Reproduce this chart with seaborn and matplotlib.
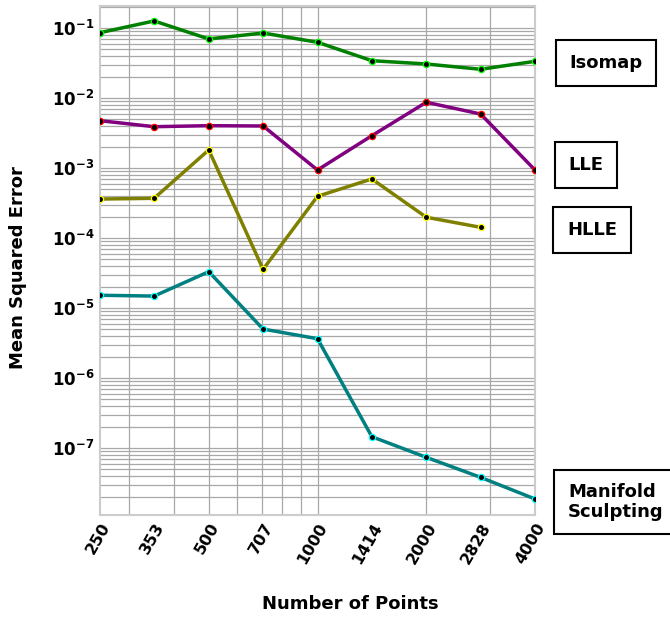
import matplotlib
matplotlib.use("Agg")
import matplotlib.pyplot as plt
import matplotlib.ticker as mticker
import seaborn as sns
import pandas as pd
import numpy as np

# ---- data ----
points = [250, 353, 500, 707, 1000, 1414, 2000, 2828, 4000]
tick_labels = ["250", "353", "500", "707", "1000", "1414", "2000", "2828", "4000"]
isomap = [0.0857, 0.126, 0.0697, 0.0848, 0.0625, 0.0341, 0.0306, 0.0257, 0.0334]
lle = [0.00474, 0.00389, 0.00402, 0.00398, 0.000936, 0.00289, 0.00869, 0.0059, 0.000936]
hlle = [0.00036, 0.000369, 0.00181, 3.57e-5, 0.000394, 0.000697, 0.000198, 0.000142]
sculpt = [1.52e-5, 1.48e-5, 3.3e-5, 5.0e-6, 3.64e-6, 1.45e-7, 7.36e-8, 3.81e-8, 1.87e-8]
series_names = ["Isomap", "LLE", "HLLE", "Manifold\nSculpting"]

sns.set_style("white")
plt.rcParams['font.family'] = ['DejaVu Sans']
plt.rcParams['mathtext.default'] = 'bf'
plt.rcParams['axes.unicode_minus'] = False
for k in ['text.color', 'axes.labelcolor', 'xtick.color', 'ytick.color']:
    plt.rcParams[k] = 'black'

fig = plt.figure(figsize=(6.70, 6.17), dpi=100)
ax = fig.add_axes([100/670, 1-515/617, 435/670, 509/617])

styles = [
    (isomap, "#008000", "#00ff00"),
    (lle, "#800080", "#ff0000"),
    (hlle, "#808000", "#ffff00"),
    (sculpt, "#008080", "#00ffff"),
]
for vals, col, edge in styles:
    df = pd.DataFrame({"x": points[:len(vals)], "y": vals})
    sns.lineplot(data=df, x="x", y="y", ax=ax, color=col, lw=2.5,
                 marker="o", markersize=4.5, markerfacecolor="black",
                 markeredgecolor=edge, markeredgewidth=0.9, zorder=3)

ax.set_xscale("log")
ax.set_yscale("log")
ax.set_xlim(250, 4000)
ax.set_ylim(10**-7.957, 10**-0.686)

# x ticks at data points, grid at log minor positions
ax.xaxis.set_major_locator(mticker.FixedLocator(points))
ax.xaxis.set_major_formatter(mticker.FixedFormatter(tick_labels))
ax.xaxis.set_minor_locator(mticker.LogLocator(base=10, subs=np.arange(1, 10)))
ax.xaxis.set_minor_formatter(mticker.NullFormatter())
ax.xaxis.remove_overlapping_locs = False
ax.yaxis.set_major_locator(mticker.LogLocator(base=10, numticks=20))
ax.yaxis.set_minor_locator(mticker.LogLocator(base=10, subs=np.arange(2, 10), numticks=20))
ax.yaxis.set_minor_formatter(mticker.NullFormatter())
ax.yaxis.set_major_formatter(mticker.FuncFormatter(
    lambda v, p: r"$10^{%d}$" % int(round(np.log10(v)))))

ax.grid(False)
ax.xaxis.grid(True, which="minor", color="#a8a8a8", lw=0.9)
ax.yaxis.grid(True, which="both", color="#a8a8a8", lw=0.9)
ax.tick_params(which="both", length=0)
ax.tick_params(axis="y", labelsize=12, pad=4)
ax.tick_params(axis="x", labelsize=11.5, pad=4)
for lab in ax.get_xticklabels():
    lab.set_rotation(60)
    lab.set_fontweight("bold")
    lab.set_ha("right")
    lab.set_va("top")
    lab.set_rotation_mode("anchor")
for s in ax.spines.values():
    s.set_color("#cccccc")
    s.set_linewidth(1.5)

ax.set_xlabel("")
ax.set_ylabel("Mean Squared Error", fontsize=13, fontweight="bold")
ax.yaxis.set_label_coords((27-100)/435, (515-268)/509)
fig.text(350/670, 1-604/617, "Number of Points", fontsize=13, fontweight="bold",
         ha="center", va="center")

box = dict(boxstyle="square,pad=0.75", fc="white", ec="black", lw=1.5)
label_pos = [(606, 63, "center"), (586, 165, "center"), (592, 230, "center"), (568, 502, "left")]
for name, (px, py, ha) in zip(series_names, label_pos):
    fig.text(px/670, 1-py/617, name, fontsize=13, fontweight="bold",
             ha=ha, va="center", bbox=box, linespacing=1.1)

fig.savefig("out.png", dpi=100)
